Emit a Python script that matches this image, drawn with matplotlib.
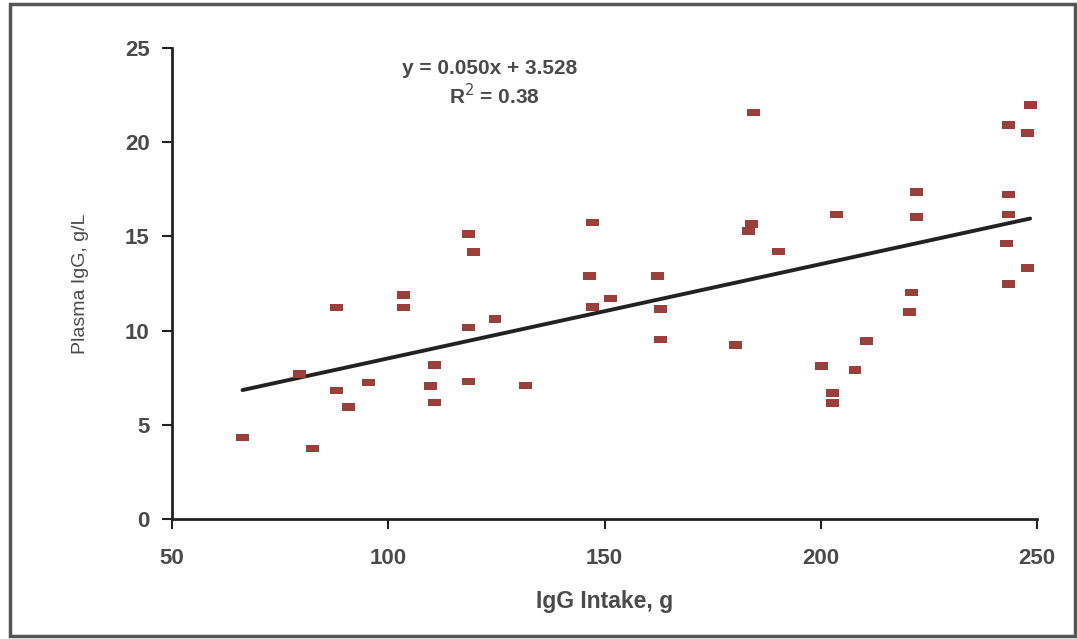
import matplotlib
matplotlib.use("Agg")
import matplotlib.pyplot as plt
from matplotlib.patches import Rectangle
import numpy as np

plt.rcParams['font.family'] = ['Liberation Sans', 'DejaVu Sans']

# Data
igg_intake = [66.3, 79.4, 82.5, 88.1, 88.1, 90.8, 95.5, 103.5, 103.5, 109.7,
              110.6, 110.6, 118.5, 118.5, 118.5, 119.8, 124.7, 131.8, 146.6, 147.2,
              147.2, 151.4, 162.2, 163.0, 163.0, 180.3, 184.4, 184.0, 183.2, 190.2,
              200.2, 202.8, 202.8, 203.7, 207.9, 210.5, 220.6, 221.0, 222.2, 222.2,
              243.0, 243.4, 243.4, 243.4, 243.4, 247.8, 247.8, 248.4]
plasma_igg = [4.32, 7.71, 3.75, 11.22, 6.82, 5.96, 7.25, 11.89, 11.22, 7.06,
              8.17, 6.19, 15.14, 10.17, 7.29, 14.17, 10.6, 7.08, 12.9, 15.73,
              11.27, 11.71, 12.9, 11.16, 9.52, 9.22, 21.57, 15.64, 15.29, 14.2,
              8.12, 6.67, 6.14, 16.17, 7.91, 9.43, 10.97, 12.03, 17.34, 16.03,
              14.63, 20.9, 17.23, 16.17, 12.47, 20.47, 13.34, 21.97]
slope = 0.050
intercept = 3.528
r2 = 0.38
x_ticks = [50, 100, 150, 200, 250]
y_ticks = [0, 5, 10, 15, 20, 25]

text_color = '#4a4a4a'

fig = plt.figure(figsize=(10.77, 6.39), dpi=100)
ax = fig.add_axes([0.1597, 0.1878, 0.9629 - 0.1597, 0.9249 - 0.1878])

# marker: small horizontal rectangle
verts = [(-1, -0.6), (1, -0.6), (1, 0.6), (-1, 0.6), (-1, -0.6)]
ax.scatter(igg_intake, plasma_igg, marker=verts, s=85, color='#9B3F3A',
           edgecolors='none', zorder=3)

xl = np.array([min(igg_intake), max(igg_intake)])
ax.plot(xl, slope * xl + intercept, color='#222222', lw=2.8, zorder=2,
        solid_capstyle='round')

ax.set_xlim(50, 250)
ax.set_ylim(0, 25)
ax.set_xticks(x_ticks)
ax.set_yticks(y_ticks)
for s in ['top', 'right']:
    ax.spines[s].set_visible(False)
for s in ['left', 'bottom']:
    ax.spines[s].set_linewidth(2)
    ax.spines[s].set_color('#222222')
ax.tick_params(axis='both', direction='out', length=7, width=1.5, color='#222222',
               labelsize=16, labelcolor=text_color)
for lab in ax.get_xticklabels() + ax.get_yticklabels():
    lab.set_fontweight('bold')
ax.tick_params(axis='y', pad=9)
ax.tick_params(axis='x', pad=14)

ax.set_xlabel('IgG Intake, g', fontsize=16.5, color=text_color, labelpad=15,
              fontweight='bold')
ax.set_ylabel('Plasma IgG, g/L', fontsize=14, color=text_color, labelpad=26)

ax.text(123.5, 23.9, f'y = {slope:.3f}x + {intercept:.3f}', fontsize=15,
        color=text_color, ha='center', va='center', fontweight='bold')
ax.text(124.5, 22.45, f'R$^2$ = {r2:.2f}', fontsize=15,
        color=text_color, ha='center', va='center', fontweight='bold')

# outer border
fig.patches.append(Rectangle((0.009, 0.004), 0.989, 0.99, transform=fig.transFigure,
                             fill=False, edgecolor='#555555', lw=2.5))

fig.savefig('out.png', dpi=100)
